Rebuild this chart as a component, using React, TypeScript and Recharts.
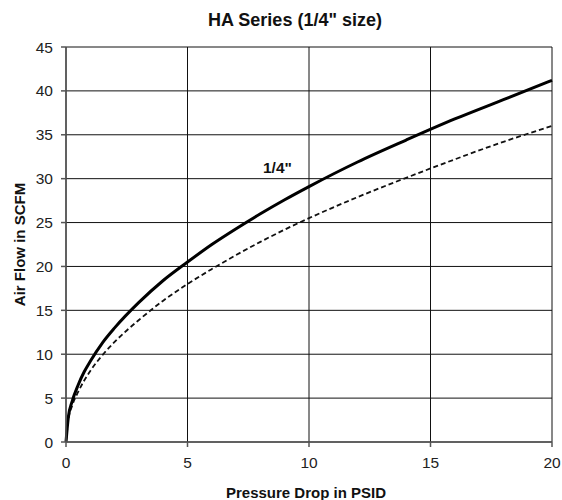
import { LineChart, Line, XAxis, YAxis, CartesianGrid, ReferenceDot } from "recharts";

// pressure drop (PSID) sample points
const pressure = [0, 0.1, 0.25, 0.5, 0.75, 1, 1.5, 2, 3, 4, 5, 6, 7, 8, 9, 10, 12, 14, 16, 18, 20];
// air flow (SCFM), solid 1/4" curve
const flowSolid = [0, 2.9, 4.6, 6.5, 8.0, 9.2, 11.3, 13.0, 15.9, 18.4, 20.5, 22.5, 24.3, 26.0, 27.6, 29.1, 31.9, 34.4, 36.8, 39.0, 41.2];
// air flow (SCFM), dashed curve
const flowDashed = [0, 2.6, 4.1, 5.7, 7.0, 8.1, 9.9, 11.4, 13.9, 16.1, 18.0, 19.7, 21.3, 22.8, 24.2, 25.5, 27.9, 30.1, 32.2, 34.2, 36.0];

const xTicks = [0, 5, 10, 15, 20];
const yTicks = [0, 5, 10, 15, 20, 25, 30, 35, 40, 45];

const data = pressure.map((p, i) => ({ p, solid: flowSolid[i], dashed: flowDashed[i] }));

const font = "'Liberation Sans', Arial, Helvetica, sans-serif";

export default function App() {
  return (
    <div style={{ position: "absolute", left: 0, top: 0, width: 562, height: 500, fontFamily: font, background: "#fff" }}>
      <div
        style={{
          position: "absolute",
          left: 145,
          width: 300,
          top: 10,
          lineHeight: "20px",
          textAlign: "center",
          fontWeight: "bold",
          fontSize: 18,
          color: "#111",
        }}
      >
        HA Series (1/4" size)
      </div>
      <LineChart width={562} height={500} data={data} margin={{ top: 47, right: 10, bottom: 28, left: 0 }}>
        <CartesianGrid stroke="#111" strokeWidth={1} horizontalValues={yTicks} verticalValues={xTicks} />
        <XAxis
          dataKey="p"
          type="number"
          domain={[0, 20]}
          ticks={xTicks}
          height={30}
          stroke="#555"
          strokeWidth={1.5}
          tickSize={5}
          tickMargin={10}
          tick={{ fill: "#222", fontSize: 15.5, fontFamily: font }}
          label={{
            value: "Pressure Drop in PSID",
            position: "insideBottom",
            offset: -26,
            dx: -3,
            style: { fontWeight: "bold", fontSize: 15, fill: "#111", fontFamily: font },
          }}
        />
        <YAxis
          type="number"
          domain={[0, 45]}
          ticks={yTicks}
          width={66}
          stroke="#555"
          strokeWidth={1.5}
          tickSize={5}
          tickMargin={8}
          interval={0}
          tick={{ fill: "#222", fontSize: 15.5, fontFamily: font }}
          label={{
            value: "Air Flow in SCFM",
            angle: -90,
            position: "insideLeft",
            offset: 20,
            style: { fontWeight: "bold", fontSize: 15, fill: "#111", fontFamily: font, textAnchor: "middle" },
          }}
        />
        <Line
          dataKey="dashed"
          type="monotone"
          stroke="#111"
          strokeWidth={1.8}
          strokeDasharray="5 3"
          dot={false}
          isAnimationActive={false}
        />
        <Line dataKey="solid" type="monotone" stroke="#000" strokeWidth={3} dot={false} isAnimationActive={false} />
        <ReferenceDot
          x={8.7}
          y={31.3}
          r={0}
          fill="none"
          stroke="none"
          label={{
            value: '1/4"',
            position: "center",
            style: { fontWeight: "bold", fontSize: 15.5, fill: "#111", fontFamily: font },
          }}
        />
      </LineChart>
    </div>
  );
}
